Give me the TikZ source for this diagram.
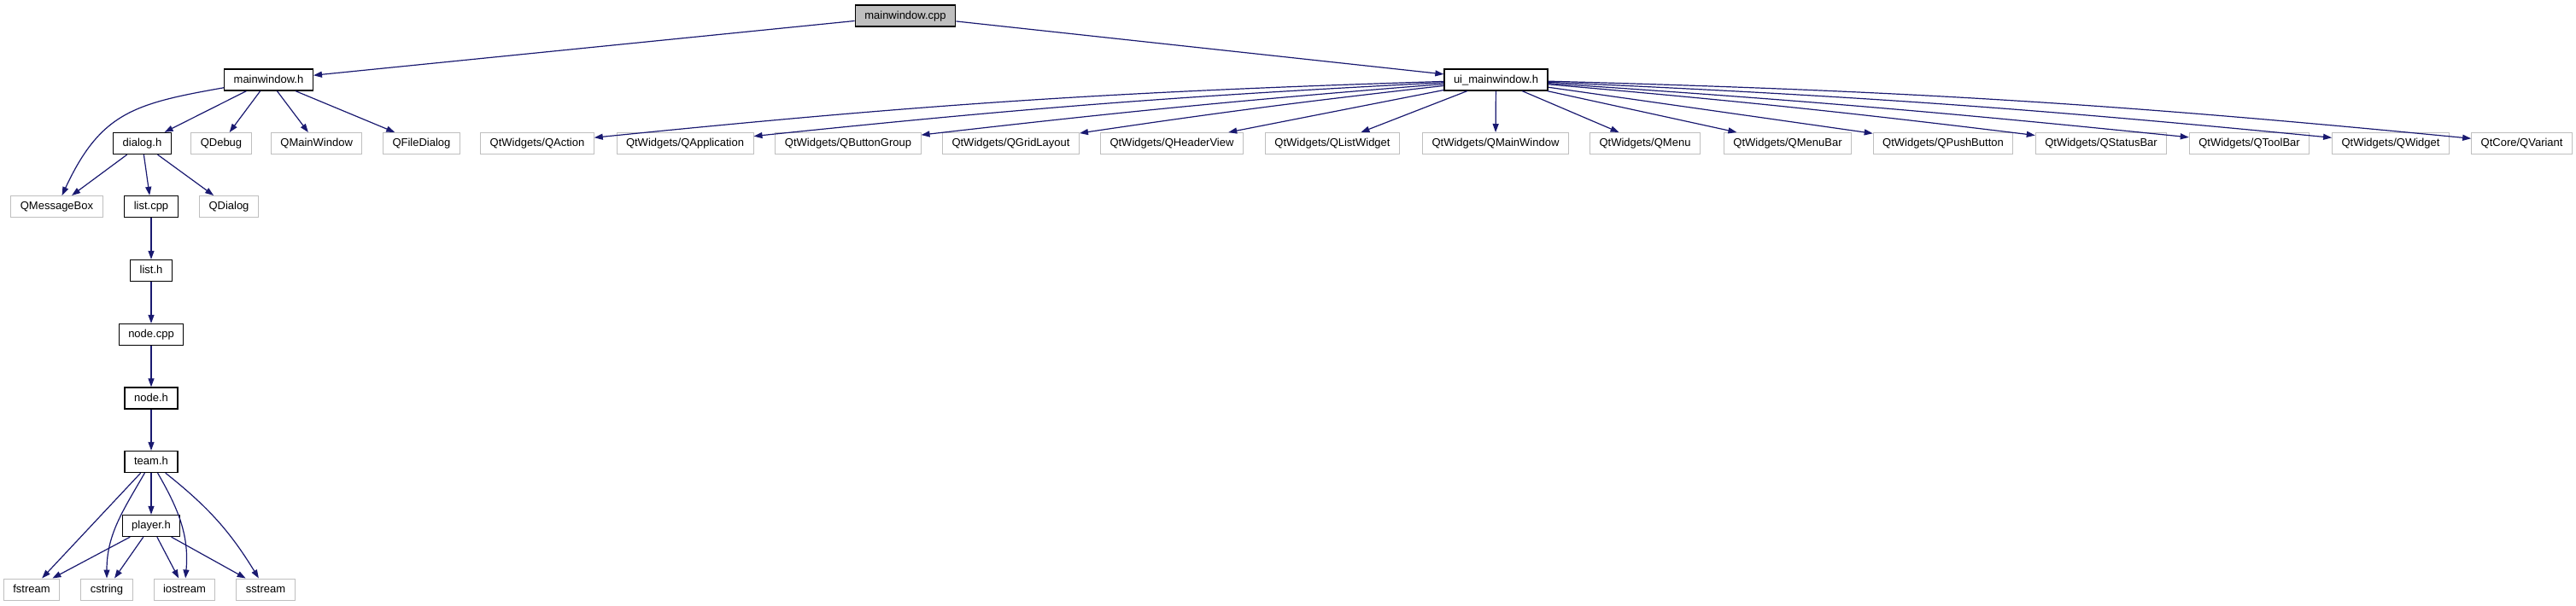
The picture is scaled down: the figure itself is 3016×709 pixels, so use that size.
\documentclass[tikz,border=0pt]{standalone}
\usepackage{fontspec}
\setmainfont{Liberation Sans}
\usetikzlibrary{arrows.meta}
\definecolor{edgeblue}{HTML}{191970}
\definecolor{extgray}{HTML}{BFBFBF}

\begin{document}
\begin{tikzpicture}[x=0.5pt, y=-0.5pt,
    file/.style={draw=black, line width=0.65pt, minimum height=12.5pt,
      inner xsep=5.5pt, inner ysep=0pt, text height=5pt, text depth=1.5pt,
      font=\fontsize{6.5}{7.5}\selectfont},
    ext/.style={file, draw=extgray, line width=0.5pt},
    dep/.style={draw=edgeblue, line width=0.6pt, -{Triangle[length=5pt,width=3.5pt]}}]
  \useasboundingbox (0,0) rectangle (3016,709);

  \node[file, fill=extgray] (mwcpp) at (1060, 18.5) {mainwindow.cpp};
  \node[file] (mwh) at (314.5, 93.5) {mainwindow.h};
  \node[file] (uimwh) at (1751.5, 93.5) {ui\_mainwindow.h};

  % mainwindow.h branch
  \node[file] (dialogh) at (166.5, 168) {dialog.h};
  \node[ext] (qdebug) at (259, 168) {QDebug};
  \node[ext] (qmainwindow) at (370.7, 168) {QMainWindow};
  \node[ext] (qfiledialog) at (493.5, 168) {QFileDialog};
  \node[ext] (qmessagebox) at (66.5, 242) {QMessageBox};
  \node[file] (listcpp) at (177, 242) {list.cpp};
  \node[ext] (qdialog) at (268, 242) {QDialog};
  \node[file] (listh) at (177, 317) {list.h};
  \node[file] (nodecpp) at (177, 392) {node.cpp};
  \node[file] (nodeh) at (177, 466.5) {node.h};
  \node[file] (teamh) at (177, 541) {team.h};
  \node[file] (playerh) at (177, 616) {player.h};
  \node[ext] (fstream) at (37, 690.5) {fstream};
  \node[ext] (cstring) at (125, 690.5) {cstring};
  \node[ext] (iostream) at (216, 690.5) {iostream};
  \node[ext] (sstream) at (311, 690.5) {sstream};

  % ui_mainwindow.h branch
  \node[ext] (qaction) at (629, 168) {QtWidgets/QAction};
  \node[ext] (qapplication) at (802, 168) {QtWidgets/QApplication};
  \node[ext] (qbuttongroup) at (993, 168) {QtWidgets/QButtonGroup};
  \node[ext] (qgridlayout) at (1183.5, 168) {QtWidgets/QGridLayout};
  \node[ext] (qheaderview) at (1372, 168) {QtWidgets/QHeaderView};
  \node[ext] (qlistwidget) at (1560, 168) {QtWidgets/QListWidget};
  \node[ext] (qtmainwindow) at (1751, 168) {QtWidgets/QMainWindow};
  \node[ext] (qmenu) at (1926, 168) {QtWidgets/QMenu};
  \node[ext] (qmenubar) at (2093, 168) {QtWidgets/QMenuBar};
  \node[ext] (qpushbutton) at (2275, 168) {QtWidgets/QPushButton};
  \node[ext] (qstatusbar) at (2460, 168) {QtWidgets/QStatusBar};
  \node[ext] (qtoolbar) at (2633.5, 168) {QtWidgets/QToolBar};
  \node[ext] (qwidget) at (2799, 168) {QtWidgets/QWidget};
  \node[ext] (qvariant) at (2952.6, 168) {QtCore/QVariant};

  \draw[dep] (mwcpp) -- (mwh);
  \draw[dep] (mwcpp) -- (uimwh);

  \draw[dep] (mwh) to[out=190, in=65, looseness=1.2] (qmessagebox);
  \draw[dep] (mwh) -- (dialogh);
  \draw[dep] (mwh) -- (qdebug);
  \draw[dep] (mwh) -- (qmainwindow);
  \draw[dep] (mwh) -- (qfiledialog);
  \draw[dep] (dialogh) -- (qmessagebox);
  \draw[dep] (dialogh) -- (listcpp);
  \draw[dep] (dialogh) -- (qdialog);
  \draw[dep] (listcpp) -- (listh);
  \draw[dep] (listh) -- (nodecpp);
  \draw[dep] (nodecpp) -- (nodeh);
  \draw[dep] (nodeh) -- (teamh);
  \draw[dep] (teamh) -- (playerh);
  \draw[dep] (teamh) -- (fstream);
  \draw[dep] (teamh) to[out=-120, in=90] (cstring);
  \draw[dep] (teamh) to[out=-60, in=85] (iostream);
  \draw[dep] (teamh) to[bend left=10] (sstream);
  \draw[dep] (playerh) -- (fstream);
  \draw[dep] (playerh) -- (cstring);
  \draw[dep] (playerh) -- (iostream);
  \draw[dep] (playerh) -- (sstream);

  \draw[dep] (uimwh) to[bend right=2] (qaction);
  \draw[dep] (uimwh) to[bend right=1.5] (qapplication);
  \draw[dep] (uimwh) to[bend right=1] (qbuttongroup);
  \draw[dep] (uimwh) to[bend right=1] (qgridlayout);
  \draw[dep] (uimwh) -- (qheaderview);
  \draw[dep] (uimwh) -- (qlistwidget);
  \draw[dep] (uimwh) -- (qtmainwindow);
  \draw[dep] (uimwh) -- (qmenu);
  \draw[dep] (uimwh) -- (qmenubar);
  \draw[dep] (uimwh) -- (qpushbutton);
  \draw[dep] (uimwh) to[bend left=1] (qstatusbar);
  \draw[dep] (uimwh) to[bend left=1] (qtoolbar);
  \draw[dep] (uimwh) to[bend left=1.5] (qwidget);
  \draw[dep] (uimwh) to[bend left=2] (qvariant);
\end{tikzpicture}
\end{document}
